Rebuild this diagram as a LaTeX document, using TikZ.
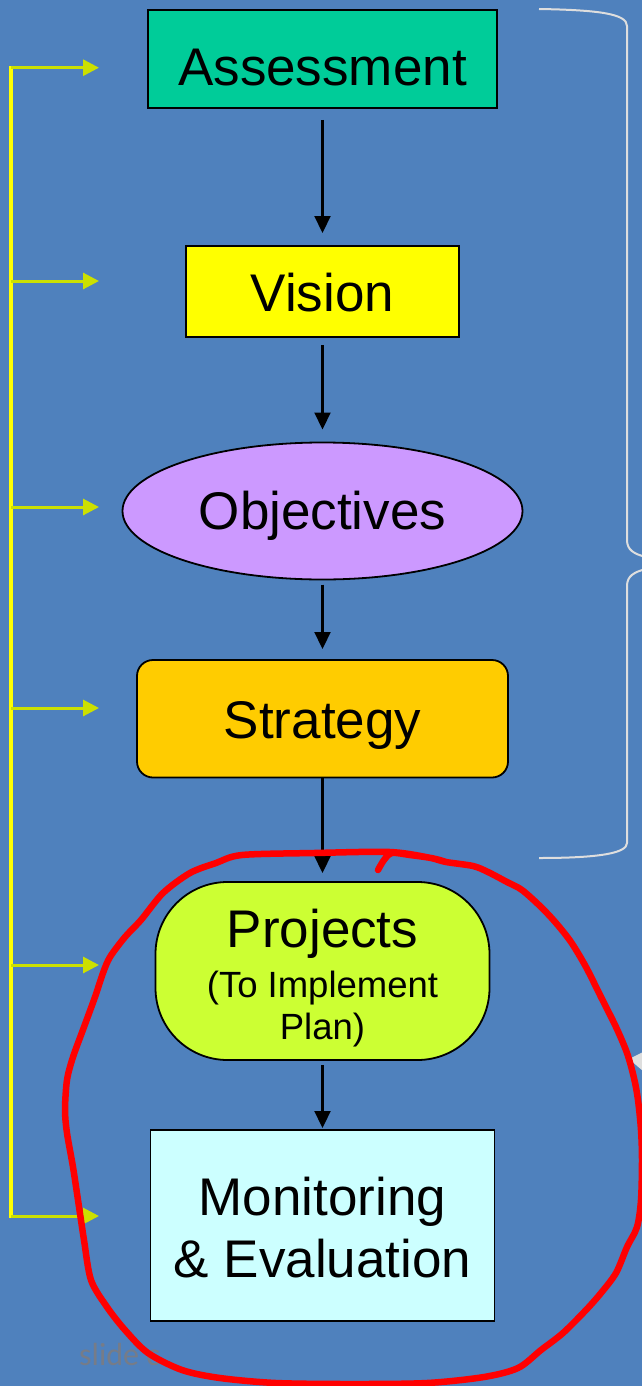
\documentclass[tikz,border=0pt]{standalone}
\usepackage{fontspec}
\setmainfont{Liberation Sans}
\newfontfamily\wmfont{Carlito}
\usetikzlibrary{shapes.geometric,arrows.meta}
\definecolor{bg}{RGB}{79,129,189}
\definecolor{cAss}{RGB}{0,204,153}
\definecolor{cVis}{RGB}{255,255,0}
\definecolor{cObj}{RGB}{204,153,255}
\definecolor{cStr}{RGB}{255,204,0}
\definecolor{cPro}{RGB}{204,255,51}
\definecolor{cMon}{RGB}{204,255,255}
\definecolor{ygreen}{RGB}{204,224,0}
\definecolor{yline}{RGB}{255,255,0}
\definecolor{brace}{RGB}{222,222,222}
\definecolor{wm}{RGB}{118,124,136}
\begin{document}
\begin{tikzpicture}[x=1pt,y=-1pt,
  box/.style={draw=black, line width=1.8pt, inner sep=0pt, outer sep=0pt, text=black,
              font=\fontsize{53}{62}\selectfont},
  flow/.style={-{Triangle[width=16pt,length=17pt]}, line width=2.2pt, draw=black},
  feed/.style={-{Triangle[width=16pt,length=16pt]}, line width=3pt, draw=ygreen},
  spine/.style={line width=3.5pt, draw=yline},
  bracestyle/.style={line width=2pt, draw=brace},
  ring/.style={draw=red, line width=6.5pt, line join=round, line cap=round}]
\fill[bg] (0,0) rectangle (642,1386);
\useasboundingbox (0,0) rectangle (642,1386);
\clip (0,0) rectangle (642,1386);

% watermark
\node[anchor=base west, inner sep=0pt, text=wm, font=\wmfont\fontsize{32}{32}\selectfont] (wmark) at (79,1365) {slide c};

% right brace
\draw[bracestyle] (539,9) .. controls (600,10) and (627,14) .. (627,26) -- (627,540)
  .. controls (627,550) and (634,554) .. (646,557);
\draw[bracestyle] (646,569) .. controls (634,572) and (627,576) .. (627,586) -- (627,843)
  .. controls (627,853) and (600,858) .. (539,858);

% pointer at right edge
\fill[brace] (629,1059) -- (643,1052) -- (643,1071) -- cycle;

% nodes
\node[box, fill=cAss, minimum width=349pt, minimum height=98pt] (assess) at (322.5,59)
  {\raisebox{-27pt}[0pt][0pt]{Assessment}};
\node[box, fill=cVis, minimum width=273pt, minimum height=91pt] (vision) at (322.5,291.5)
  {\raisebox{-20pt}[0pt][0pt]{Vision}};
\node[box, ellipse, fill=cObj, minimum width=400pt, minimum height=137pt] (obj) at (322.5,511)
  {\raisebox{-18pt}[0pt][0pt]{Objectives}};
\node[box, rounded corners=16pt, fill=cStr, minimum width=371pt, minimum height=117.5pt] (strat) at (322.5,718.75)
  {\raisebox{-19.5pt}[0pt][0pt]{Strategy}};
\node[box, rounded corners=72pt, fill=cPro, minimum width=334pt, minimum height=178pt] (proj) at (322.5,971)
  {\raisebox{24pt}[0pt][0pt]{\fontsize{53}{50}\selectfont\begin{tabular}[t]{@{}c@{}}Projects\\
   {\fontsize{36.5}{40}\selectfont (To Implement}\\[-8pt]
   {\fontsize{36.5}{40}\selectfont Plan)}\end{tabular}}};
\node[box, fill=cMon, minimum width=344pt, minimum height=191pt] (mon) at (322.5,1225.5)
  {\raisebox{10.5pt}[0pt][0pt]{\fontsize{53}{62}\selectfont\begin{tabular}[t]{@{}c@{}}Monitoring\\ \& Evaluation\end{tabular}}};

% flow arrows
\draw[flow, shorten <=12pt, shorten >=13pt] (assess.south) -- (vision.north);
\draw[flow, shorten <=8pt, shorten >=13pt] (vision.south) -- (obj.north);
\draw[flow, shorten <=5pt, shorten >=11pt] (obj.south) -- (strat.north);
\draw[flow, shorten >=9pt] (strat.south) -- (proj.north);
\draw[flow, shorten <=5pt, shorten >=2pt] (proj.south) -- (mon.north);

% feedback line
\coordinate (ytop) at (11,66);
\coordinate (ybot) at (11,1218);
\draw[spine] (ytop) -- (ybot);
\foreach \i/\yy in {1/67.7, 2/281, 3/507, 4/708, 5/965, 6/1216}{
  \coordinate (fs\i) at (11,\yy);
  \coordinate (fe\i) at (99,\yy);
  \draw[feed] (fs\i) -- (fe\i);
}

% red hand-drawn ring
\draw[ring] plot[smooth, tension=0.5] coordinates {
 (378,870) (384,860) (392,853) (410,855) (431,858) (446,862) (473,866) (488,872)
 (507,882) (522,890) (541,907) (556,923) (571,942) (586,967) (601,997) (616,1027)
 (627,1053) (634,1078) (638,1100) (641,1130) (642,1160) (641,1200) (637,1227)
 (627,1247) (616,1273) (601,1293) (586,1310) (563,1333) (541,1350) (518,1368)
 (484,1377) (427,1383) (352,1384) (276,1383) (220,1378) (182,1370) (148,1353)
 (125,1330) (107,1307) (91,1280) (84,1240) (78,1200) (73,1167) (67,1133) (65,1110)
 (67,1080) (73,1057) (84,1027) (95,997) (103,973) (110,957) (125,937) (141,920)
 (163,893) (190,873) (216,863) (242,855) (314,853) (390,852) (431,858) (446,862)};
\end{tikzpicture}
\end{document}
